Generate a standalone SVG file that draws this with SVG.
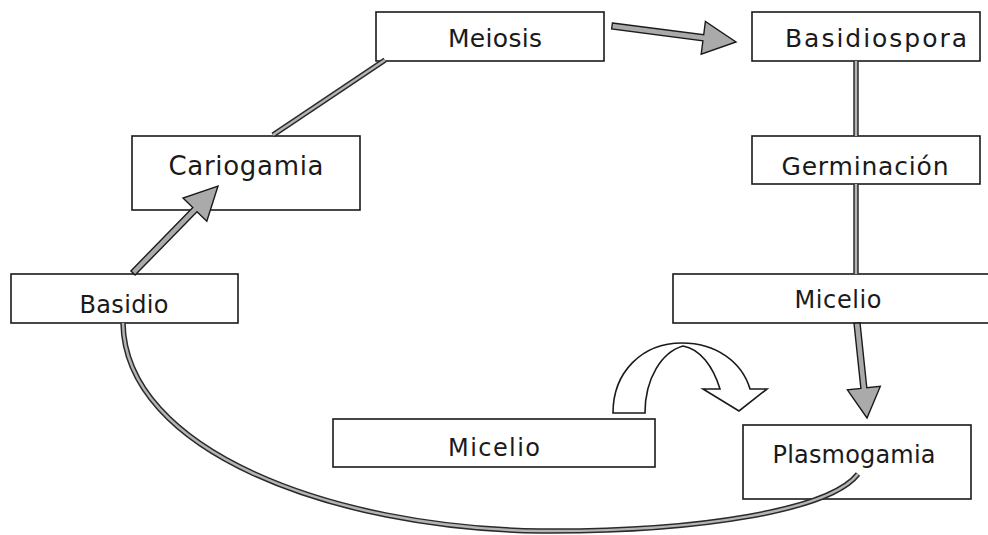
<svg xmlns="http://www.w3.org/2000/svg" width="988" height="535" viewBox="0 0 988 535">
<style>
.box{fill:#fff;stroke:#1a1a1a;stroke-width:1.6}
.lbl{font-family:"DejaVu Sans","Liberation Sans",sans-serif;fill:#1a1a1a;text-anchor:middle}
.lo{fill:none;stroke:#2a2a2a;stroke-width:5.5;stroke-linecap:butt}
.li{fill:none;stroke:#b4b4b4;stroke-width:2.5;stroke-linecap:butt}
.blk{fill:#aaaaaa;stroke:#1a1a1a;stroke-width:1.4;stroke-linejoin:miter}
.hollow{fill:#fff;stroke:#1a1a1a;stroke-width:1.6;stroke-linejoin:miter}
</style>
<rect width="988" height="535" fill="#fff"/>
<g id="meiosis">
  <rect class="box" x="376" y="12" width="228" height="49"/>
  <text class="lbl" x="495" y="47" font-size="25" textLength="94" lengthAdjust="spacing">Meiosis</text>
</g>
<g id="basidiospora">
  <rect class="box" x="752" y="12" width="228" height="49"/>
  <text class="lbl" x="876" y="47" font-size="25" textLength="182" lengthAdjust="spacing">Basidiospora</text>
</g>
<g id="germinacion">
  <rect class="box" x="752" y="136" width="228" height="48"/>
  <text class="lbl" x="865" y="175" font-size="25" textLength="167" lengthAdjust="spacing">Germinación</text>
</g>
<g id="micelio-right">
  <rect class="box" x="673" y="274" width="330" height="49"/>
  <text class="lbl" x="838" y="308" font-size="24" textLength="87" lengthAdjust="spacing">Micelio</text>
</g>
<g id="cariogamia">
  <rect class="box" x="132" y="136" width="228" height="74"/>
  <text class="lbl" x="246" y="175" font-size="26" textLength="155" lengthAdjust="spacing">Cariogamia</text>
</g>
<g id="basidio">
  <rect class="box" x="11" y="274" width="227" height="49"/>
  <text class="lbl" x="124" y="313" font-size="24" textLength="89" lengthAdjust="spacing">Basidio</text>
</g>
<g id="micelio-bottom">
  <rect class="box" x="333" y="419" width="322" height="48"/>
  <text class="lbl" x="494" y="456" font-size="24" textLength="92" lengthAdjust="spacing">Micelio</text>
</g>
<g id="plasmogamia">
  <rect class="box" x="743" y="425" width="228" height="74"/>
  <text class="lbl" x="854" y="463" font-size="24" textLength="163" lengthAdjust="spacing">Plasmogamia</text>
</g>
<g id="connectors">
  <path class="lo" d="M273,135 L385,60"/>
  <path class="li" d="M273,135 L385,60"/>
  <path class="lo" d="M856,61 L856,136"/>
  <path class="li" d="M856,61 L856,136"/>
  <path class="lo" d="M856,184 L856,274"/>
  <path class="li" d="M856,184 L856,274"/>
  <path class="lo" d="M123,323 C125,450 330,528 540,531 C700,532 830,510 858,474"/>
  <path class="li" d="M123,323 C125,450 330,528 540,531 C700,532 830,510 858,474"/>
  <polygon class="blk" points="612.4,23 703.7,34.8 705.4,21.4 736,42 701.2,54.2 702.9,40.8 611.6,29"/>
  <polygon class="blk" points="130.9,270.9 192.8,207.5 183,198 218,186 206.8,221.2 197,211.7 135.1,275.1"/>
  <polygon class="blk" points="854,323.3 860.9,388.5 847.4,389.9 867,418 880.3,386.4 866.8,387.8 860,322.7"/>
  <path class="hollow" d="M613,413 C613,372 642,343 682,343 C716,343 742,362 750,389 L767,389 L739,411 L703,389 L720,389 C713,366 700,349 683,346 C662,352 645,378 645,413 Z"/>
</g>
</svg>
